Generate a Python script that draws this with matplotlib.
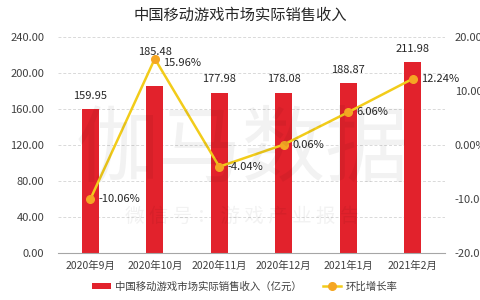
import matplotlib
matplotlib.use("Agg")
import matplotlib.pyplot as plt
from matplotlib.ticker import FuncFormatter

plt.rcParams['font.family'] = ['Noto Sans CJK SC', 'DejaVu Sans']

categories = ["2020年9月", "2020年10月", "2020年11月", "2020年12月", "2021年1月", "2021年2月"]
revenue = [159.95, 185.48, 177.98, 178.08, 188.87, 211.98]
growth = [-10.06, 15.96, -4.04, 0.06, 6.06, 12.24]
bar_name = "中国移动游戏市场实际销售收入（亿元）"
line_name = "环比增长率"
title = "中国移动游戏市场实际销售收入"
watermark = "伽马数据"
watermark_sub = "微 信 号 ： 游 戏 产 业 报 告"

fig = plt.figure(figsize=(4.8, 3.0), dpi=100)
ax = fig.add_axes([0.121, 0.157, 0.806, 0.72])
ax2 = ax.twinx()

x = list(range(len(categories)))
bars = ax.bar(x, revenue, width=0.26, color="#E2222C", zorder=2, label=bar_name)
ax.set_xlim(-0.5, len(categories) - 0.5)
ax.set_ylim(0, 240)
ax.set_yticks([0, 40, 80, 120, 160, 200, 240])
ax.yaxis.set_major_formatter(FuncFormatter(lambda v, p: f"{v:.2f}"))
ax.set_xticks(x)
ax.set_xticklabels(categories)
ax.grid(axis='y', color="#D9D9D9", linestyle=(0, (3, 2)), linewidth=0.7, zorder=0)
for s in ["top", "right", "left"]:
    ax.spines[s].set_visible(False)
ax.spines["bottom"].set_color("#A6A6A6")
ax.tick_params(axis='y', length=0, labelsize=8, colors="#404040", pad=10)
ax.tick_params(axis='x', length=0, labelsize=7.5, colors="#404040", pad=6)

line, = ax2.plot(x, growth, color="#F2CC1A", linewidth=1.8, marker='o', markersize=5.5,
                 markerfacecolor="#F5A623", markeredgecolor="#F5A623", zorder=3, label=line_name)
ax2.set_ylim(-20, 20)
ax2.set_yticks([-20, -10, 0, 10, 20])
ax2.yaxis.set_major_formatter(FuncFormatter(lambda v, p: f"{v:.2f}%"))
for s in ["top", "right", "left", "bottom"]:
    ax2.spines[s].set_visible(False)
ax2.tick_params(axis='y', length=0, labelsize=8, colors="#404040", pad=7)

# bar value labels
bar_offsets = [6, 21, 6, 6, 6, 6]
for i, v in enumerate(revenue):
    ax.annotate(f"{v:.2f}", (i, v), xytext=(0, bar_offsets[i]), textcoords="offset points",
                ha='center', va='bottom', fontsize=8, color="#262626", zorder=6)
# growth labels
for i, g in enumerate(growth):
    dy = -3 if i == 1 else 0
    ax2.annotate(f"{g:.2f}%", (i, g), xytext=(6, dy), textcoords="offset points",
                 ha='left', va='center', fontsize=8, color="#262626", zorder=6)

# watermark
fig.text(0.505, 0.50, watermark, fontsize=60, color="#000000", alpha=0.05, ha='center', va='center')
fig.text(0.505, 0.277, watermark_sub, fontsize=14, color="#000000", alpha=0.05,
         ha='center', va='center')

fig.text(0.5, 0.948, title, ha='center', va='center', fontsize=11, color="#262626")

fig.legend(handles=[bars, line], labels=[bar_name, line_name], loc='center', bbox_to_anchor=(0.51, 0.045),
           ncol=2, frameon=False, fontsize=7.5, handlelength=1.8, handleheight=0.6, columnspacing=2.0,
           handletextpad=0.4, labelcolor="#404040")

fig.savefig("out.png", dpi=100)
